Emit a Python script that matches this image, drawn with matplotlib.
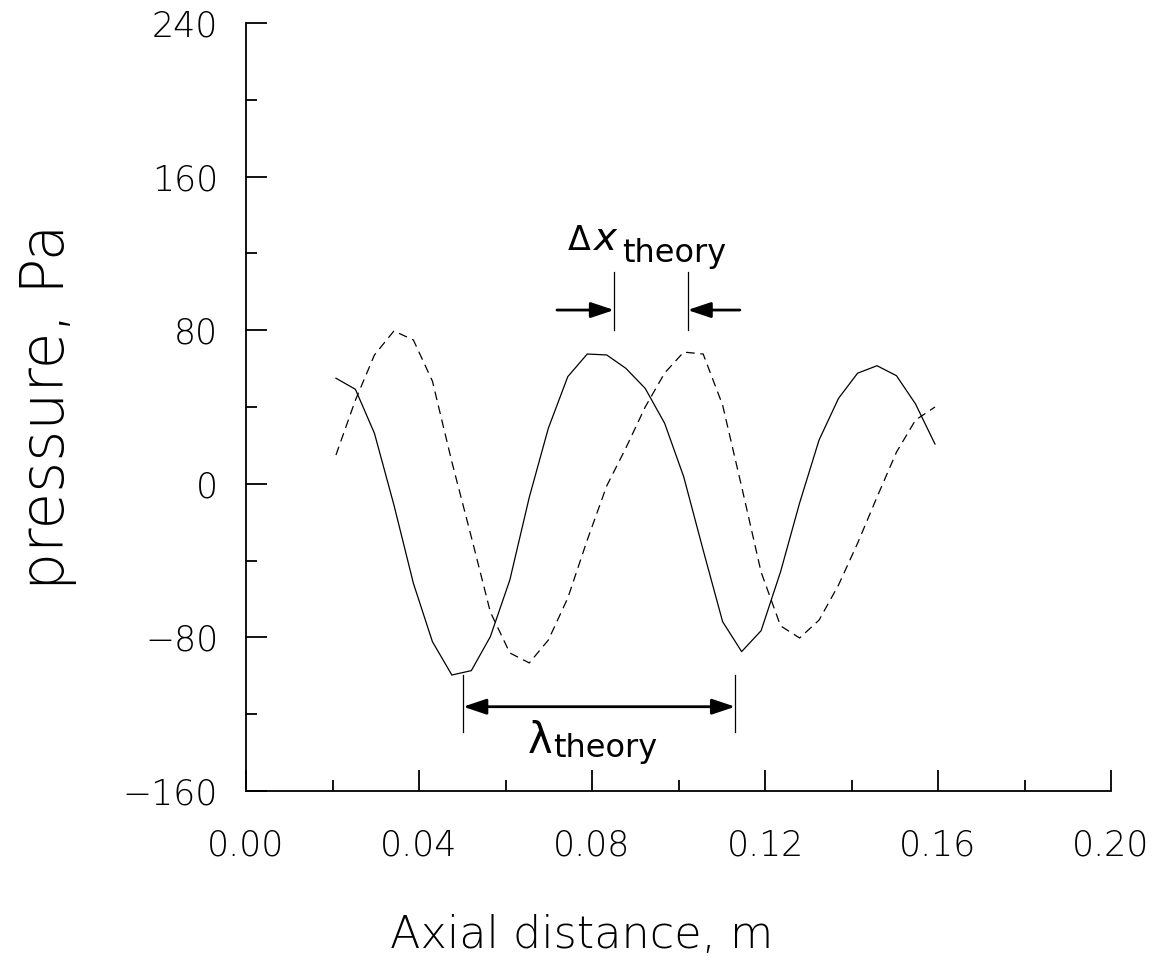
import numpy as np
import matplotlib
matplotlib.use("Agg")
import matplotlib.pyplot as plt
from matplotlib.patches import FancyArrowPatch

# Axial positions of the pressure samples (m)
x_pos = [0.0208, 0.0253, 0.0297, 0.0342, 0.0387, 0.0431, 0.0476, 0.0521,
         0.0565, 0.0610, 0.0655, 0.0699, 0.0744, 0.0789, 0.0834, 0.0878,
         0.0923, 0.0968, 0.1012, 0.1057, 0.1102, 0.1146, 0.1191, 0.1236,
         0.1280, 0.1325, 0.1370, 0.1414, 0.1459, 0.1504, 0.1548, 0.1593]

# Pressure at the first instant (solid) and the later instant (dashed), Pa
p_solid = [55.0, 49.2, 26.3, -11.0, -51.8, -82.2, -99.6, -97.3,
           -79.6, -50.1, -7.0, 28.9, 55.8, 67.6, 67.1, 60.2,
           49.7, 31.5, 3.7, -34.5, -71.8, -87.4, -76.5, -45.8,
           -10.0, 22.8, 44.5, 57.6, 61.5, 56.3, 41.6, 20.7]
p_dashed = [15.0, 43.6, 67.1, 79.6, 74.9, 53.5, 11.4, -27.7,
            -66.8, -88.1, -93.3, -81.4, -59.5, -29.3, -1.1, 18.5,
            40.0, 57.7, 68.6, 67.6, 41.0, -1.5, -46.0, -74.0,
            -80.3, -71.0, -52.7, -31.0, -6.9, 16.5, 33.2, 40.0]

x_ticks = [0.00, 0.04, 0.08, 0.12, 0.16, 0.20]
x_minor = [0.02, 0.06, 0.10, 0.14, 0.18]
y_ticks = [-160, -80, 0, 80, 160, 240]
y_minor = [-120, -40, 40, 120, 200]

# Dimension markers: phase shift between the two peaks and the wavelength
shift_marks = [0.0851, 0.1021]
shift_y = (80.1, 110.3)
shift_arrow_y = 90.5
shift_arrow_tails = [0.0719, 0.1142]
wave_marks = [0.0502, 0.1131]
wave_y = (-129.3, -99.6)
wave_arrow_y = -116.1

THIN = 200
plt.rcParams['font.family'] = ['DejaVu Sans']
plt.rcParams['axes.unicode_minus'] = True

W, H = 1164, 971
fig = plt.figure(figsize=(W / 100, H / 100), dpi=100)
ax = fig.add_axes([246 / W, 1 - 791 / H, 865 / W, 768 / H])

ax.plot(x_pos, p_solid, color='black', lw=0.9)
ax.plot(x_pos, p_dashed, color='black', lw=0.9, linestyle=(0, (7, 4.5)))

ax.set_xlim(0, 0.20)
ax.set_ylim(-160, 240)
ax.set_xticks(x_ticks)
ax.set_xticks(x_minor, minor=True)
ax.set_yticks(y_ticks)
ax.set_yticks(y_minor, minor=True)
ax.set_xticklabels([f"{v:.2f}" for v in x_ticks], fontweight=THIN, fontsize=25)
ax.set_yticklabels([f"{v}".replace('-', '\u2212') for v in y_ticks],
                   fontweight=THIN, fontsize=25)

for s in ('top', 'right'):
    ax.spines[s].set_visible(False)
for s in ('left', 'bottom'):
    ax.spines[s].set_linewidth(1.3)

ax.tick_params(which='both', direction='in', width=1.3, labelcolor='black')
ax.tick_params(which='major', length=15)
ax.tick_params(which='minor', length=8)
ax.tick_params(axis='x', which='major', pad=27)
ax.tick_params(axis='y', which='major', pad=20)

fig.text(582 / W, 1 - 948 / H, 'Axial distance, m', fontsize=32, fontweight=THIN,
         ha='center', va='baseline')
fig.text(64 / W, 1 - 407 / H, 'pressure, Pa', fontsize=43, fontweight=THIN,
         ha='center', va='baseline', rotation=90, rotation_mode='anchor')


def arrow(x0, x1, y, both=False):
    style = '<|-|>' if both else '-|>'
    ax.add_patch(FancyArrowPatch((x0, y), (x1, y),
                                 arrowstyle=style + ',head_length=14,head_width=4.7',
                                 mutation_scale=1, lw=2.0, color='black',
                                 shrinkA=0, shrinkB=0))


for xm in shift_marks:
    ax.plot([xm, xm], shift_y, color='black', lw=0.9)
arrow(shift_arrow_tails[0], shift_marks[0], shift_arrow_y)
arrow(shift_arrow_tails[1], shift_marks[1], shift_arrow_y)

for xm in wave_marks:
    ax.plot([xm, xm], wave_y, color='black', lw=0.9)
arrow(wave_marks[0], wave_marks[1], wave_arrow_y, both=True)

ann = dict(color='black', va='baseline', ha='left', family='DejaVu Sans',
           fontweight='normal')
ax.text(0.0745, 121.8, '\u0394', fontsize=24, **ann)
ax.text(0.0805, 121.8, 'x', fontsize=28, style='italic', **ann)
ax.text(0.0869, 115.5, 'theory', fontsize=23, **ann)
ax.text(0.0652, -140.2, '\u03bb', fontsize=30, **ann)
ax.text(0.0710, -142.3, 'theory', fontsize=23, **ann)

fig.savefig('out.png', dpi=100)
